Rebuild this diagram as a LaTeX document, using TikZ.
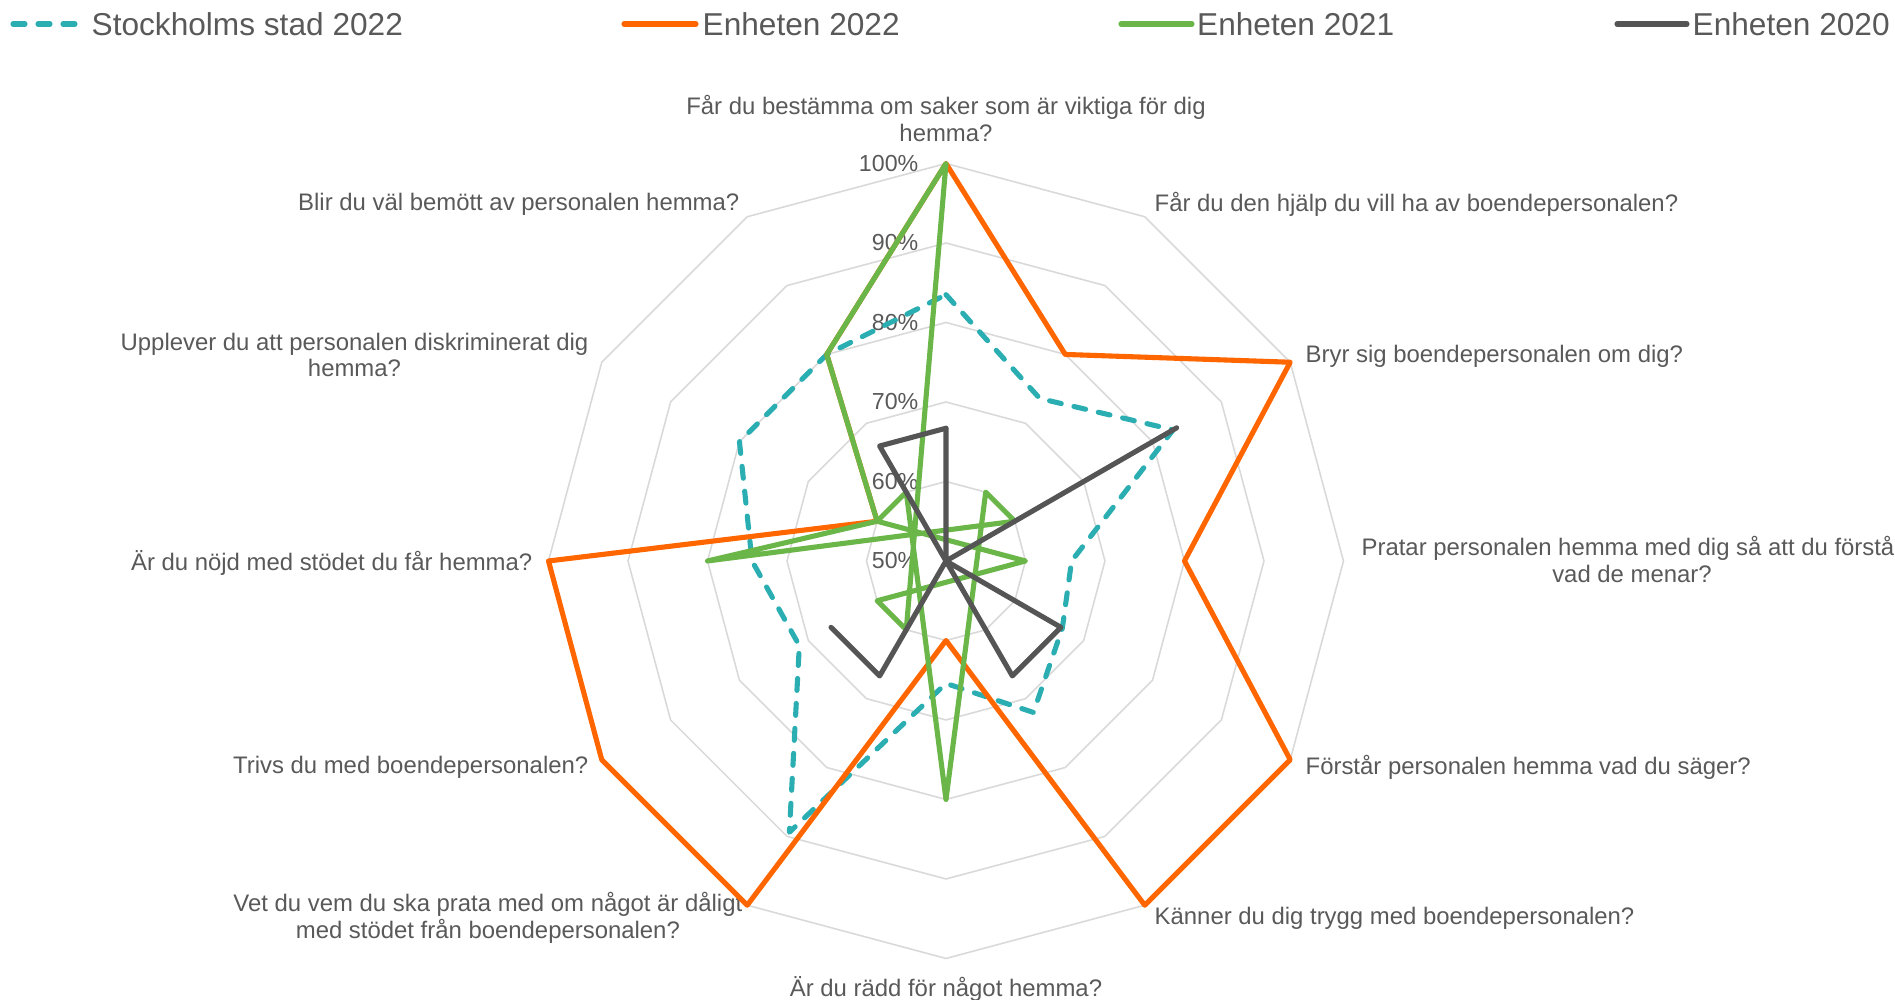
\documentclass[tikz,border=0pt]{standalone}
\usepackage{fontspec}
\setmainfont{Liberation Sans}

\definecolor{txtgrey}{RGB}{89,89,89}
\definecolor{gridgrey}{RGB}{217,217,217}
\definecolor{stadteal}{RGB}{43,174,178}
\definecolor{unitorange}{RGB}{255,102,0}
\definecolor{unitgreen}{RGB}{106,182,72}
\definecolor{unitgrey}{RGB}{85,85,85}

\tikzset{
    gridline/.style={draw=gridgrey, line width=0.45pt},
    series/.style={line width=1.45pt, line join=round, line cap=round},
    stad2022/.style={series, draw=stadteal, dash pattern=on 0.12cm off 0.13cm},
    unit2022/.style={series, draw=unitorange},
    unit2021/.style={series, draw=unitgreen},
    unit2020/.style={series, draw=unitgrey},
    qlabel/.style={text=txtgrey, inner sep=0pt, align=center, font=\fontsize{6.8}{7.6}\selectfont},
    pctlabel/.style={text=txtgrey, inner sep=0pt, anchor=east, font=\fontsize{6.6}{7.6}\selectfont},
    legendlabel/.style={text=txtgrey, inner sep=0pt, anchor=west, font=\fontsize{9}{11}\selectfont}
}

\begin{document}
\begin{tikzpicture}
    \useasboundingbox (-9.46,-4.39) rectangle (9.49,5.61);

    % rings, 50% sits in the centre
    \foreach \r in {60,70,...,100}
        \draw[gridline] (90:{(\r-50)*0.0795}) \foreach \a in {30,60,...,330} {-- ({90-\a}:{(\r-50)*0.0795})} -- cycle;

    \foreach \r in {50,60,...,100}
        \node[pctlabel] (pct\r) at (-0.27,{(\r-50)*0.0795}) {\r\%};

    % questions, clockwise from the top
    \node[qlabel] (q0) at (0,4.425) {Får du bestämma om saker som är viktiga för dig\\hemma?};
    \node[qlabel, anchor=west] (q30) at (2.08,3.57) {Får du den hjälp du vill ha av boendepersonalen?};
    \node[qlabel, anchor=west] (q60) at (3.59,2.05) {Bryr sig boendepersonalen om dig?};
    \node[qlabel] (q90) at (6.86,0.015) {Pratar personalen hemma med dig så att du förstår\\vad de menar?};
    \node[qlabel, anchor=west] (q120) at (3.59,-2.06) {Förstår personalen hemma vad du säger?};
    \node[qlabel, anchor=west] (q150) at (2.08,-3.57) {Känner du dig trygg med boendepersonalen?};
    \node[qlabel] (q180) at (0,-4.28) {Är du rädd för något hemma?};
    \node[qlabel, anchor=east] (q210) at (-2.03,-3.57) {Vet du vem du ska prata med om något är dåligt\\med stödet från boendepersonalen?};
    \node[qlabel, anchor=east] (q240) at (-3.57,-2.06) {Trivs du med boendepersonalen?};
    \node[qlabel, anchor=east] (q270) at (-4.13,-0.02) {Är du nöjd med stödet du får hemma?};
    \node[qlabel, anchor=east] (q300) at (-3.57,2.06) {Upplever du att personalen diskriminerat dig\\hemma?};
    \node[qlabel, anchor=east] (q330) at (-2.06,3.57) {Blir du väl bemött av personalen hemma?};

    % series points (angle/value)
    \foreach \a/\v in {0/83.5,30/73.6,60/83,90/65.8,120/66.9,150/72,180/65.4,210/89.4,240/71.3,270/74.4,300/80,330/80}
        \coordinate (s\a) at ({90-\a}:{(\v-50)*0.0795});
    \foreach \a/\v in {0/100,30/80,60/100,90/80,120/100,150/100,180/60,210/100,240/100,270/100,300/60,330/80}
        \coordinate (o\a) at ({90-\a}:{(\v-50)*0.0795});
    \foreach \n/\a/\v in {a/0/100,b/330/80,c/300/60,d/270/80,e/30/60,f/90/60,g/180/80,h/240/60,i/210/60,j/330/60,k/60/60}
        \coordinate (g\n) at ({90-\a}:{(\v-50)*0.0795});
    \foreach \a/\v in {0/66.7,30/50,60/83.5,90/50,120/66.7,150/66.7,180/50,210/66.7,240/66.7,300/50,330/66.7}
        \coordinate (k\a) at ({90-\a}:{(\v-50)*0.0795});

    \draw[stad2022] (s0) -- (s30) -- (s60) -- (s90) -- (s120) -- (s150) -- (s180) -- (s210) -- (s240) -- (s270) -- (s300) -- (s330) -- cycle;
    \draw[unit2022] (o0) -- (o30) -- (o60) -- (o90) -- (o120) -- (o150) -- (o180) -- (o210) -- (o240) -- (o270) -- (o300) -- (o330) -- cycle;
    \draw[unit2021] (ga) -- (gb) -- (gc) -- (gd) -- (gk) -- (ge) -- (gg) -- (gj) -- (gc) -- (gf) -- (gh) -- (gi) -- cycle;
    \draw[unit2020] (k0) -- (k30) -- (k60) -- (k90) -- (k120) -- (k150) -- (k180) -- (k210) -- (k240);
    \draw[unit2020] (k300) -- (k330) -- (k0);

    % legend
    \draw[stad2022] (-9.33,5.37) -- (-8.67,5.37);
    \node[legendlabel] (leg1) at (-8.55,5.37) {Stockholms stad 2022};
    \draw[unit2022] (-3.22,5.37) -- (-2.50,5.37);
    \node[legendlabel] (leg2) at (-2.44,5.37) {Enheten 2022};
    \draw[unit2021] (1.75,5.37) -- (2.46,5.37);
    \node[legendlabel] (leg3) at (2.505,5.37) {Enheten 2021};
    \draw[unit2020] (6.71,5.37) -- (7.41,5.37);
    \node[legendlabel] (leg4) at (7.46,5.37) {Enheten 2020};
\end{tikzpicture}
\end{document}
